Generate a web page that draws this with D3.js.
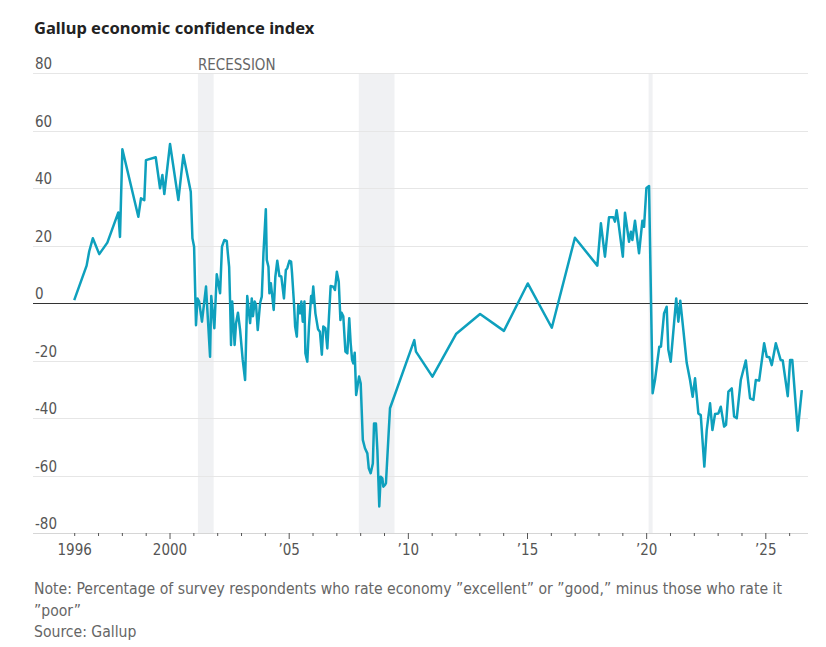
<!DOCTYPE html>
<html>
<head>
<meta charset="utf-8">
<script src="https://cdn.jsdelivr.net/npm/d3@7"></script>
<style>
	body { margin: 0; background: #fff; }
	svg { display: block; }
</style>
</head>
<body>
<div id="chart"></div>
<script>
/**** DATA *****/
// [decimal year, index value]
const confidence = [
	[1995.98, 1], [1996.5, 13], [1996.61, 18], [1996.76, 22.5], [1997.03, 17], [1997.37, 21],
	[1997.83, 31.5], [1997.9, 23], [1998.0, 53.5], [1998.67, 30], [1998.78, 36.4], [1998.92, 35.8],
	[1998.99, 49.7], [1999.4, 50.7], [1999.58, 39.9], [1999.68, 44.5], [1999.76, 37.9], [2000.0, 55.3],
	[2000.35, 35.8], [2000.56, 51.5], [2000.87, 38.7], [2000.94, 22.5], [2001.01, 19.6],
	[2001.09, -7.7], [2001.15, 1.6], [2001.22, 0.5], [2001.34, -6.5], [2001.51, 5.7], [2001.68, -18.7],
	[2001.73, 2.4], [2001.86, -8.8], [2001.96, 10], [2002.1, 3.4], [2002.18, 19.6], [2002.28, 21.9],
	[2002.38, 21.6], [2002.42, 17.8], [2002.48, 12.6], [2002.52, 0.5], [2002.56, -14.6], [2002.61, 0.5],
	[2002.66, -7], [2002.71, -14.6], [2002.77, -7], [2002.85, -3.4], [2002.94, -9.4], [2003.05, -19.8],
	[2003.15, -26.8], [2003.24, 2.4], [2003.36, -7], [2003.43, 1.6], [2003.48, -4.6], [2003.55, 0.5],
	[2003.61, -0.7], [2003.68, -9.4], [2003.78, 0], [2003.85, 2.2], [2003.92, 17.3], [2004.02, 32.6],
	[2004.06, 15], [2004.13, 12.6], [2004.17, 3.4], [2004.23, 6.9], [2004.28, 3.1], [2004.35, -2.4],
	[2004.42, 9.2], [2004.5, 14.7], [2004.59, 9.4], [2004.67, 9.2], [2004.78, 1.6], [2004.86, 11.5],
	[2004.92, 12.1], [2005.01, 14.7], [2005.08, 14.4], [2005.12, 10.3], [2005.2, 0], [2005.25, -8.2],
	[2005.32, -11.7], [2005.38, -0.7], [2005.46, -3.6], [2005.51, 0.5], [2005.57, -6.5], [2005.64, 0.5],
	[2005.68, -17.5], [2005.76, -20.4], [2005.83, -8.2], [2005.92, 2.4], [2005.96, 0], [2006.01, 5.7],
	[2006.1, -3.6], [2006.21, -9.1], [2006.29, -10], [2006.37, -18], [2006.43, -8.2], [2006.52, -8.8],
	[2006.6, -15.8], [2006.67, -4.6], [2006.74, 5.9], [2006.85, 5.7], [2006.92, 4.5], [2007.0, 10.9],
	[2007.08, 7.4], [2007.15, -5.9], [2007.2, -3.4], [2007.27, -4.6], [2007.36, -16.9], [2007.44, -17.5],
	[2007.52, -5.3], [2007.58, -14], [2007.64, -19.8], [2007.69, -21], [2007.75, -17.3], [2007.81, -32],
	[2007.93, -25.6], [2008.0, -27.9], [2008.09, -47.6], [2008.18, -50.5], [2008.28, -52.3], [2008.34, -57.5],
	[2008.42, -59.2], [2008.51, -55.8], [2008.56, -41.9], [2008.64, -41.9], [2008.7, -51.1], [2008.78, -70.8],
	[2008.84, -60.4], [2008.91, -61], [2008.95, -63.9], [2009.02, -63.3], [2009.06, -62.7], [2009.23, -36.6],
	[2010.25, -12.9], [2010.32, -16.9], [2011.01, -25.6], [2012.0, -10.8], [2013.01, -3.8], [2014.01, -9.7],
	[2015.01, 6.8], [2016.02, -8.6], [2016.99, 22.7], [2017.93, 13],
	[2018.08, 27.7], [2018.25, 16.1], [2018.42, 29.8], [2018.6, 29.8], [2018.67, 28.3], [2018.74, 32.3],
	[2018.81, 28.3], [2019.0, 16.1], [2019.09, 31.4], [2019.26, 21.3], [2019.34, 24.8], [2019.4, 21.9],
	[2019.51, 28.6], [2019.68, 17.3], [2019.82, 28.6], [2019.89, 26.5], [2019.99, 40], [2020.1, 40.7],
	[2020.25, -31.4], [2020.35, -26.8], [2020.53, -15.2], [2020.6, -15.2], [2020.73, -3.6], [2020.84, -1.3],
	[2020.91, -16.3], [2021.01, -20.4], [2021.15, -7], [2021.24, 1.6], [2021.33, -6.5], [2021.41, 0.8],
	[2021.54, -9.4], [2021.68, -20.8], [2021.82, -26.8], [2021.93, -32.6], [2022.03, -26.2], [2022.17, -38.4],
	[2022.27, -39], [2022.42, -56.9], [2022.52, -44.2], [2022.66, -34.9], [2022.76, -44.2], [2022.87, -38.6],
	[2023.01, -38.4], [2023.11, -36.1], [2023.25, -43], [2023.33, -42.4], [2023.43, -30.8], [2023.57, -29.7],
	[2023.67, -39.5], [2023.78, -40.1], [2023.95, -26.8], [2024.16, -20], [2024.34, -33.2], [2024.48, -33.7],
	[2024.58, -26.8], [2024.72, -27], [2024.93, -14], [2025.04, -18.7], [2025.15, -18.9], [2025.25, -21.6],
	[2025.42, -14], [2025.62, -19.8], [2025.71, -20], [2025.92, -32.4], [2026.02, -19.8], [2026.11, -19.8],
	[2026.34, -44.4], [2026.51, -30.3]
];

const recessionStart = [2001.17, 2007.92, 2020.08];
const recessionEnd = [2001.83, 2009.42, 2020.25];

const yTicks = [-80, -60, -40, -20, 0, 20, 40, 60, 80];
const xLabelYears = [1996, 2000, 2005, 2010, 2015, 2020, 2025];
const xLabels = ['1996', '2000', '\u201905', '\u201910', '\u201915', '\u201920', '\u201925'];
const xMinorYears = d3.range(1996, 2027);

const noteLines = [
	'Note: Percentage of survey respondents who rate economy \u201dexcellent\u201d or \u201dgood,\u201d minus those who rate it',
	'\u201dpoor\u201d',
	'Source: Gallup'
];

/**** CHART *****/
const width = 826;
const height = 647;
const narrow = '"Liberation Sans Narrow", "DejaVu Sans Condensed", "Roboto Condensed", sans-serif';

const x = d3.scaleLinear().domain([1994.25, 2026.77]).range([33, 808]);
const y = d3.scaleLinear().domain([-80, 80]).range([533, 73]);

const svg = d3.select('#chart').append('svg')
	.attr('width', width).attr('height', height);

svg.append('text').text('Gallup economic confidence index')
	.attr('x', 34).attr('y', 34)
	.attr('font-family', '"Noto Sans", sans-serif').attr('font-weight', 'bold')
	.attr('font-size', '16.5px').attr('fill', '#222');

// recession bands
svg.append('g').selectAll('rect').data(recessionStart).join('rect')
	.attr('x', d => x(d))
	.attr('width', (d, i) => x(recessionEnd[i]) - x(d))
	.attr('y', y(80) + 1).attr('height', y(-80) - y(80) - 1)
	.attr('fill', '#f0f1f3');

svg.append('text').text('RECESSION')
	.attr('x', x(recessionStart[0])).attr('y', y(80) - 3)
	.attr('font-family', narrow).attr('font-size', '15px').attr('fill', '#666');

// gridlines
svg.append('g').selectAll('line').data(yTicks).join('line')
	.attr('x1', 33).attr('x2', 808)
	.attr('y1', d => Math.round(y(d)) + 0.5).attr('y2', d => Math.round(y(d)) + 0.5)
	.attr('stroke', d => d === 0 ? '#333' : (d === -80 ? '#d6d6d6' : '#e6e6e6'))
	.attr('stroke-width', 1);

svg.append('g').selectAll('text').data(yTicks).join('text')
	.text(d => d)
	.attr('x', 35).attr('y', d => y(d) - 4)
	.attr('font-family', narrow).attr('font-size', '15px').attr('fill', '#555');

// x axis ticks
svg.append('g').selectAll('line').data(xMinorYears).join('line')
	.attr('x1', d => x(d)).attr('x2', d => x(d))
	.attr('y1', y(-80)).attr('y2', d => (d % 5 === 0) ? y(-80) + 6 : y(-80) + 3)
	.attr('stroke', '#555').attr('stroke-width', 1);

svg.append('g').selectAll('text').data(xLabelYears).join('text')
	.text((d, i) => xLabels[i])
	.attr('x', d => x(d)).attr('y', y(-80) + 22)
	.attr('text-anchor', 'middle')
	.attr('font-family', narrow).attr('font-size', '15px').attr('fill', '#555');

// index line
const line = d3.line().x(d => x(d[0])).y(d => y(d[1]));

svg.append('path').datum(confidence)
	.attr('d', line)
	.attr('fill', 'none')
	.attr('stroke', '#0ea0bd')
	.attr('stroke-width', 2.5)
	.attr('stroke-linejoin', 'round');

// notes
svg.append('g').selectAll('text').data(noteLines).join('text')
	.text(d => d)
	.attr('x', 34).attr('y', (d, i) => 594 + i * 21.5)
	.attr('font-family', narrow).attr('font-size', '15.6px').attr('fill', '#666');
</script>
</body>
</html>
